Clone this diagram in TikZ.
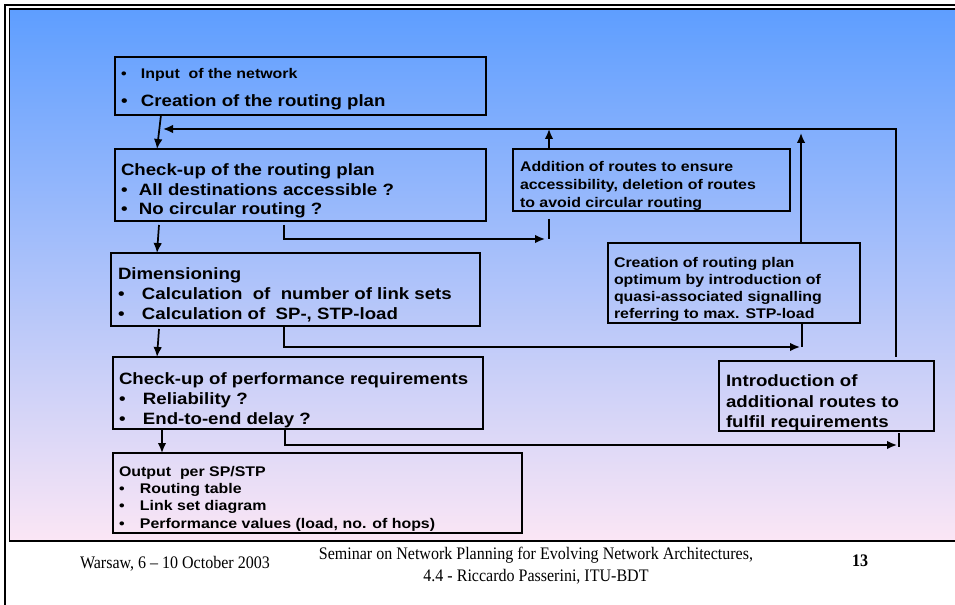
\documentclass[tikz,border=0pt]{standalone}
\usepackage{fontspec}
\setmainfont{Liberation Sans}[FakeStretch=1.137]
\newfontfamily\footfont{Liberation Serif}[FakeStretch=0.91]
\usetikzlibrary{arrows.meta,calc}
\definecolor{bgtop}{HTML}{5E9EFF}
\definecolor{bgmid}{HTML}{98C6F7}
\definecolor{bgbot}{HTML}{FBE6F5}
\newcommand\bl[1]{\makebox[#1][l]{\textbullet}}
\tikzset{
  boxst/.style={draw, line width=1.3pt, inner sep=0pt, outer sep=0pt, anchor=north west},
  tl/.style={anchor=base west, inner sep=0pt, outer sep=0pt, font=\bfseries\fontsize{12.3}{14}\selectfont},
  ts/.style={anchor=base west, inner sep=0pt, outer sep=0pt, font=\bfseries\fontsize{10.5}{12}\selectfont},
  ar/.style={line width=1.3pt, -{Latex[length=7.5pt,width=6.5pt]}},
  ln/.style={line width=1.3pt},
  ft/.style={anchor=base, inner sep=0pt, outer sep=0pt, font=\footfont\fontsize{13.2}{15}\selectfont}
}
\begin{document}
\begin{tikzpicture}[x=0.75pt,y=-0.75pt]
\useasboundingbox (0,0) rectangle (955,605);
\clip (0,0) rectangle (955,605);
\fill[white] (0,0) rectangle (955,605);
% frame
\shade[top color=bgtop, middle color=bgmid, bottom color=bgbot] (9,9) rectangle (965,541);
\draw[line width=1.1pt] (9.5,9) rectangle (965,541);
\draw[line width=1.5pt] (4.5,610) -- (4.5,5) -- (960,5);
% boxes
\node[boxst, minimum width={371*0.75pt}, minimum height={58*0.75pt}] (inp) at (115,57) {};
\node[boxst, minimum width={371*0.75pt}, minimum height={72*0.75pt}] (chk) at (115,149) {};
\node[boxst, minimum width={369*0.75pt}, minimum height={73*0.75pt}] (dim) at (111,253) {};
\node[boxst, minimum width={370*0.75pt}, minimum height={72*0.75pt}] (perf) at (113,357) {};
\node[boxst, minimum width={409*0.75pt}, minimum height={80*0.75pt}] (out) at (113,453) {};
\node[boxst, minimum width={277*0.75pt}, minimum height={62*0.75pt}] (add) at (513,149) {};
\node[boxst, minimum width={252*0.75pt}, minimum height={80*0.75pt}] (cre) at (608,243) {};
\node[boxst, minimum width={215*0.75pt}, minimum height={70*0.75pt}] (intro) at (719,361) {};
% texts
\node[ts] (i1) at (121,79) {\bl{15pt}Input\ \ of the network};
\node[tl] (i2) at (121,107) {\bl{15pt}Creation of the routing plan};
\node[tl] (c1) at (121,176) {Check-up of the routing plan};
\node[tl] (c2) at (121,196) {\bl{13.5pt}All destinations accessible ?};
\node[tl] (c3) at (121,215) {\bl{13.5pt}No circular routing ?};
\node[tl] (d1) at (118,280) {Dimensioning};
\node[tl] (d2) at (118,300) {\bl{18pt}Calculation\ \ of\ \ number of link sets};
\node[tl] (d3) at (118,320) {\bl{18pt}Calculation of\ \ SP-, STP-load};
\node[tl] (p1) at (119,384) {Check-up of performance requirements};
\node[tl] (p2) at (119,404) {\bl{18pt}Reliability ?};
\node[tl] (p3) at (119,424) {\bl{18pt}End-to-end delay ?};
\node[ts] (o1) at (119,476) {Output\ \ per SP/STP};
\node[ts] (o2) at (119,493) {\bl{15.75pt}Routing table};
\node[ts] (o3) at (119,510.5) {\bl{15.75pt}Link set diagram};
\node[ts] (o4) at (119,528) {\bl{15.75pt}Performance values (load, no. of hops)};
\node[ts] (a1) at (520,172) {Addition of routes to ensure};
\node[ts] (a2) at (520,190) {accessibility, deletion of routes};
\node[ts] (a3) at (520,208) {to avoid circular routing};
\node[ts] (r1) at (614,268) {Creation of routing plan};
\node[ts] (r2) at (614,284.5) {optimum by introduction of};
\node[ts] (r3) at (614,301.5) {quasi-associated signalling};
\node[ts] (r4) at (614,318.5) {referring to max. STP-load};
\node[tl] (n1) at (726,386) {Introduction of};
\node[tl] (n2) at (726,407) {additional routes to};
\node[tl] (n3) at (726,427) {fulfil requirements};
% connectors
\coordinate (fbEnd) at ($(inp.south west)+(48,14)$);
\draw[ar] ($(inp.south west)+(46,0)$) -- ($(chk.north west)+(42,0)$);
\draw[ar] ($(intro.north west)+(177,-4)$) -- ($(intro.north west)+(177,-232)$) -- (fbEnd);
\draw[ar] ($(add.north west)+(36,0)$) -- ++(0,-20);
\draw[ar] ($(cre.north west)+(193,0)$) -- ++(0,-110);
\draw[ar] ($(chk.south west)+(44,4)$) -- ($(dim.north west)+(46,0)$);
\draw[ar] ($(dim.south west)+(48,3)$) -- ($(perf.north west)+(44,0)$);
\draw[ar] ($(perf.south west)+(49,0)$) -- ($(out.north west)+(49,0)$);
\draw[ar] ($(chk.south west)+(169,4)$) -- ++(0,14) -- ($(add.south west)+(32,28)$);
\draw[ln] ($(add.south west)+(36,8)$) -- ++(0,20);
\draw[ar] ($(dim.south west)+(173,0)$) -- ++(0,21) -- ($(cre.south west)+(192,24)$);
\draw[ln] ($(cre.south west)+(194,0)$) -- ++(0,24);
\draw[ar] ($(perf.south west)+(172,0)$) -- ++(0,16) -- ($(intro.south west)+(178,14)$);
\draw[ln] ($(intro.south west)+(180,2)$) -- ++(0,14);
% footer
\node[ft, anchor=base west] (fw) at (80,568) {Warsaw, 6 \textendash{} 10 October 2003};
\node[ft] (fs1) at (536,559) {Seminar on Network Planning for Evolving Network Architectures,};
\node[ft] (fs2) at (536,581) {4.4 - Riccardo Passerini, ITU-BDT};
\node[ft, anchor=base west, font=\footfont\bfseries\fontsize{13.2}{15}\selectfont] (fn) at (852,566) {13};
\end{tikzpicture}
\end{document}
